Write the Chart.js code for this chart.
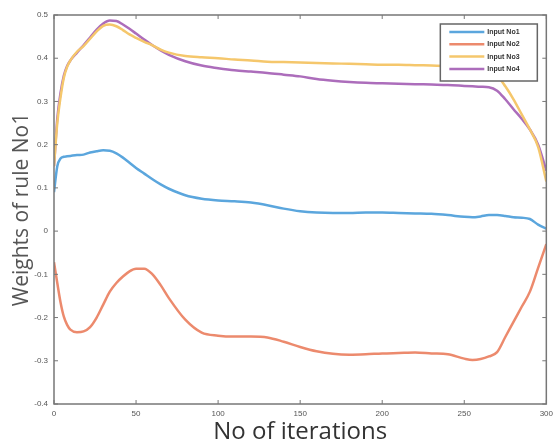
<!DOCTYPE html>
<html>
<head>
<meta charset="utf-8">
<script src="https://cdn.jsdelivr.net/npm/chart.js@4.4.1/dist/chart.umd.min.js"></script>
<style>
  html, body { margin: 0; padding: 0; background: #fff; }
  #wrap { width: 558px; height: 445px; }
</style>
</head>
<body>
<div id="wrap"><canvas id="myChart" width="558" height="445"></canvas></div>
<script>
// iterations
const iterations = [0, 2, 4, 6, 8, 10, 14, 18, 22, 26, 30, 34, 38, 42, 46, 50, 55, 60, 65, 70,
    80, 90, 100, 110, 120, 130, 140, 150, 160, 170, 180, 190, 200, 210, 220, 230, 240, 250,
    255, 260, 265, 270, 275, 280, 285, 290, 295, 300];

const input1 = [0.09, 0.15, 0.168, 0.172, 0.173, 0.174, 0.176, 0.177, 0.182, 0.185, 0.187, 0.186,
    0.18, 0.17, 0.158, 0.146, 0.133, 0.12, 0.108, 0.098, 0.083, 0.075, 0.071, 0.069, 0.066, 0.06,
    0.052, 0.046, 0.043, 0.042, 0.042, 0.043, 0.043, 0.042, 0.041, 0.04, 0.037, 0.033, 0.032,
    0.034, 0.037, 0.037, 0.035, 0.032, 0.031, 0.028, 0.015, 0.006];

const input2 = [-0.072, -0.12, -0.165, -0.198, -0.217, -0.228, -0.234, -0.232, -0.222, -0.2, -0.17,
    -0.14, -0.12, -0.105, -0.093, -0.087, -0.087, -0.1, -0.125, -0.155, -0.205, -0.235, -0.242,
    -0.244, -0.244, -0.246, -0.256, -0.268, -0.278, -0.284, -0.286, -0.285, -0.283, -0.282, -0.281,
    -0.283, -0.285, -0.295, -0.298, -0.296, -0.29, -0.28, -0.245, -0.21, -0.175, -0.14, -0.085, -0.03];

const input3 = [0.15, 0.25, 0.31, 0.355, 0.38, 0.395, 0.415, 0.428, 0.445, 0.462, 0.475, 0.478,
    0.474, 0.465, 0.455, 0.447, 0.438, 0.43, 0.42, 0.413, 0.405, 0.402, 0.4, 0.397, 0.395, 0.392,
    0.391, 0.39, 0.389, 0.388, 0.387, 0.386, 0.385, 0.385, 0.384, 0.383, 0.382, 0.38, 0.378, 0.374,
    0.368, 0.36, 0.335, 0.305, 0.27, 0.235, 0.195, 0.115];

const input4 = [0.15, 0.26, 0.32, 0.36, 0.382, 0.395, 0.413, 0.43, 0.448, 0.466, 0.48, 0.487,
    0.486, 0.478, 0.468, 0.457, 0.443, 0.43, 0.418, 0.408, 0.393, 0.383, 0.377, 0.372, 0.369, 0.366,
    0.362, 0.358, 0.352, 0.348, 0.345, 0.343, 0.342, 0.341, 0.34, 0.339, 0.338, 0.336, 0.335, 0.334,
    0.333, 0.325, 0.305, 0.282, 0.26, 0.235, 0.2, 0.14];

const seriesNames = ['Input No1', 'Input No2', 'Input No3', 'Input No4'];
const seriesColors = ['#5ba6dd', '#ec8a6d', '#f5c76c', '#ac6dbb'];

function toPoints(values) {
    return iterations.map((x, i) => ({ x: x, y: values[i] }));
}

// box round the plot with inward ticks, like matlab
const frame = {
    id: 'frame',
    afterDraw(chart) {
        const c = chart.ctx;
        const a = chart.chartArea;
        const xs = chart.scales.x;
        const ys = chart.scales.y;
        c.save();
        c.strokeStyle = '#777';
        c.lineWidth = 1.5;
        c.strokeRect(a.left, a.top, a.right - a.left, a.bottom - a.top);
        c.lineWidth = 1;
        c.beginPath();
        xs.ticks.forEach(t => {
            const px = xs.getPixelForValue(t.value);
            c.moveTo(px, a.bottom); c.lineTo(px, a.bottom - 4);
            c.moveTo(px, a.top); c.lineTo(px, a.top + 4);
        });
        ys.ticks.forEach(t => {
            const py = ys.getPixelForValue(t.value);
            c.moveTo(a.left, py); c.lineTo(a.left + 4, py);
            c.moveTo(a.right, py); c.lineTo(a.right - 4, py);
        });
        c.stroke();
        c.restore();
    }
};

// legend box inside the top right corner
const boxLegend = {
    id: 'boxLegend',
    afterDraw(chart) {
        const c = chart.ctx;
        const a = chart.chartArea;
        const w = 97, h = 57;
        const left = a.right - 9 - w;
        const top = a.top + 9;
        c.save();
        c.fillStyle = '#fff';
        c.fillRect(left, top, w, h);
        c.strokeStyle = '#666';
        c.lineWidth = 1.5;
        c.strokeRect(left, top, w, h);
        c.font = 'bold 7px "Liberation Sans", Arial, sans-serif';
        c.textBaseline = 'middle';
        chart.data.datasets.forEach((ds, i) => {
            const y = top + 8 + i * 12.3;
            c.strokeStyle = ds.borderColor;
            c.lineWidth = 2.5;
            c.beginPath();
            c.moveTo(left + 9, y);
            c.lineTo(left + 44, y);
            c.stroke();
            c.fillStyle = '#333';
            c.fillText(ds.label, left + 47, y);
        });
        c.restore();
    }
};

const ctx = document.getElementById('myChart').getContext('2d');
const myChart = new Chart(ctx, {
    type: 'line',
    data: {
        datasets: seriesNames.map((name, i) => ({
            label: name,
            data: toPoints([input1, input2, input3, input4][i]),
            borderColor: seriesColors[i],
            backgroundColor: seriesColors[i],
            borderWidth: 2.5,
            pointRadius: 0,
            fill: false,
            cubicInterpolationMode: 'monotone'
        }))
    },
    options: {
        responsive: false,
        animation: false,
        layout: { padding: { top: 15, right: 9, left: 0, bottom: 0 } },
        plugins: {
            legend: { display: false },
            tooltip: { enabled: false }
        },
        scales: {
            x: {
                type: 'linear',
                min: 0,
                max: 300,
                grid: { display: false, drawTicks: false },
                border: { display: false },
                ticks: {
                    stepSize: 50,
                    padding: 5,
                    color: '#555',
                    font: { size: 8, family: '"Liberation Sans", Arial, sans-serif' }
                },
                title: {
                    display: true,
                    text: 'No of iterations',
                    color: '#333',
                    padding: { top: 0, bottom: 0 },
                    font: { size: 24, family: '"Open Sans", sans-serif', lineHeight: 1.1 }
                },
                afterFit(scale) { scale.height = 41; }
            },
            y: {
                min: -0.4,
                max: 0.5,
                grid: { display: false, drawTicks: false },
                border: { display: false },
                ticks: {
                    stepSize: 0.1,
                    padding: 6,
                    color: '#555',
                    font: { size: 8, family: '"Liberation Sans", Arial, sans-serif' },
                    callback: v => String(Math.round(v * 10) / 10)
                },
                title: {
                    display: true,
                    text: 'Weights of rule No1',
                    color: '#555',
                    padding: { top: 9, bottom: 0 },
                    font: { size: 21, family: '"Open Sans", sans-serif', lineHeight: 1.2 }
                },
                afterFit(scale) { scale.width = 54; }
            }
        }
    },
    plugins: [frame, boxLegend]
});
</script>
</body>
</html>
